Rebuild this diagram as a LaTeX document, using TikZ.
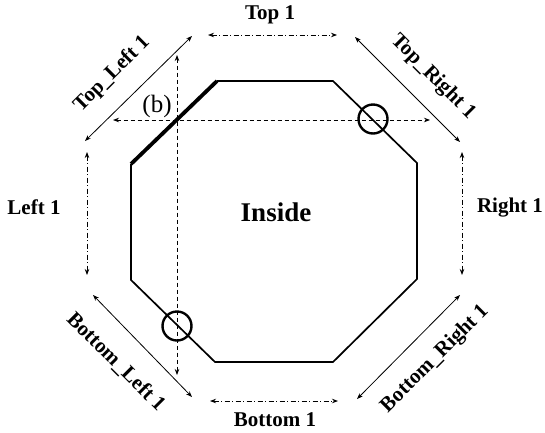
\documentclass[tikz,border=0pt]{standalone}
\usepackage{fontspec}
\setmainfont{Liberation Serif}
\usetikzlibrary{arrows.meta,calc}

\begin{document}
\begin{tikzpicture}[x=1pt, y=-1pt,
  lbl/.style={font=\fontsize{21}{23}\selectfont\bfseries, inner sep=0pt},
  border/.style={line width=1.7pt, line join=miter},
  dimline/.style={line width=0.8pt,
    {Stealth[length=6pt,width=4.5pt]}-{Stealth[length=6pt,width=4.5pt]}},
  dimdash/.style={dimline, dash pattern=on 5pt off 2.5pt on 1pt off 2.5pt},
  guide/.style={dimline, dash pattern=on 4pt off 3pt},
  ring/.style={circle, draw, line width=2.4pt, minimum size=29pt, inner sep=0pt},
  ]
  \useasboundingbox (0,0) rectangle (545,432);

  % The octagon.
  \coordinate (o1) at (217,81);
  \coordinate (o2) at (333,81);
  \coordinate (o3) at (417,163);
  \coordinate (o4) at (417,279);
  \coordinate (o5) at (333,362);
  \coordinate (o6) at (215,362);
  \coordinate (o7) at (131,280);
  \coordinate (o8) at (131,164);
  \draw[border] (o1) -- (o2) -- (o3) -- (o4) -- (o5) -- (o6) -- (o7) -- (o8);
  \draw[line width=3.8pt] (o8) -- (o1);
  \node[font=\fontsize{27}{29}\selectfont\bfseries] (inside) at (276,212) {Inside};

  % Side arrows.
  \coordinate (t1a) at (208,35);  \coordinate (t1b) at (337,35);
  \coordinate (b1a) at (210,401); \coordinate (b1b) at (338,401);
  \coordinate (l1a) at (87,152);  \coordinate (l1b) at (87,275);
  \coordinate (r1a) at (462,152); \coordinate (r1b) at (462,275);
  \draw[dimdash] (t1a) -- (t1b);
  \draw[dimdash] (b1a) -- (b1b);
  \draw[dimdash] (l1a) -- (l1b);
  \draw[dimdash] (r1a) -- (r1b);
  \node[lbl] (top) at (270,15) {Top 1};
  \node[lbl] (bottom) at (275,420) {Bottom 1};
  \node[lbl] (left) at (34,207) {Left 1};
  \node[lbl] (right) at (510,208) {Right 1};

  % Corner arrows.
  \coordinate (tla) at (192,36);  \coordinate (tlb) at (85,141);
  \coordinate (tra) at (355,37);  \coordinate (trb) at (460,142);
  \coordinate (bla) at (93,295);  \coordinate (blb) at (192,397);
  \coordinate (bra) at (357,399); \coordinate (brb) at (460,295);
  \draw[dimline] (tla) -- (tlb);
  \draw[dimline] (tra) -- (trb);
  \draw[dimline] (bla) -- (blb);
  \draw[dimline] (bra) -- (brb);
  \node[lbl, rotate=45] (topleft) at (112,74) {Top\_Left 1};
  \node[lbl, rotate=-45] (topright) at (433,77) {Top\_Right 1};
  \node[lbl, rotate=-45] (bottomleft) at (116,362) {Bottom\_Left 1};
  \node[lbl, rotate=45] (bottomright) at (435,359) {Bottom\_Right 1};

  % Guide lines and crossings.
  \coordinate (gva) at (177,55);  \coordinate (gvb) at (177,375);
  \coordinate (gha) at (113,120); \coordinate (ghb) at (430,120);
  \draw[guide] (gva) -- (gvb);
  \draw[guide] (gha) -- (ghb);
  \node[font=\fontsize{25}{27}\selectfont] (b) at (157,106) {(b)};
  \node[ring] (cross1) at (373,119) {};
  \node[ring] (cross2) at (177,326) {};
\end{tikzpicture}
\end{document}
